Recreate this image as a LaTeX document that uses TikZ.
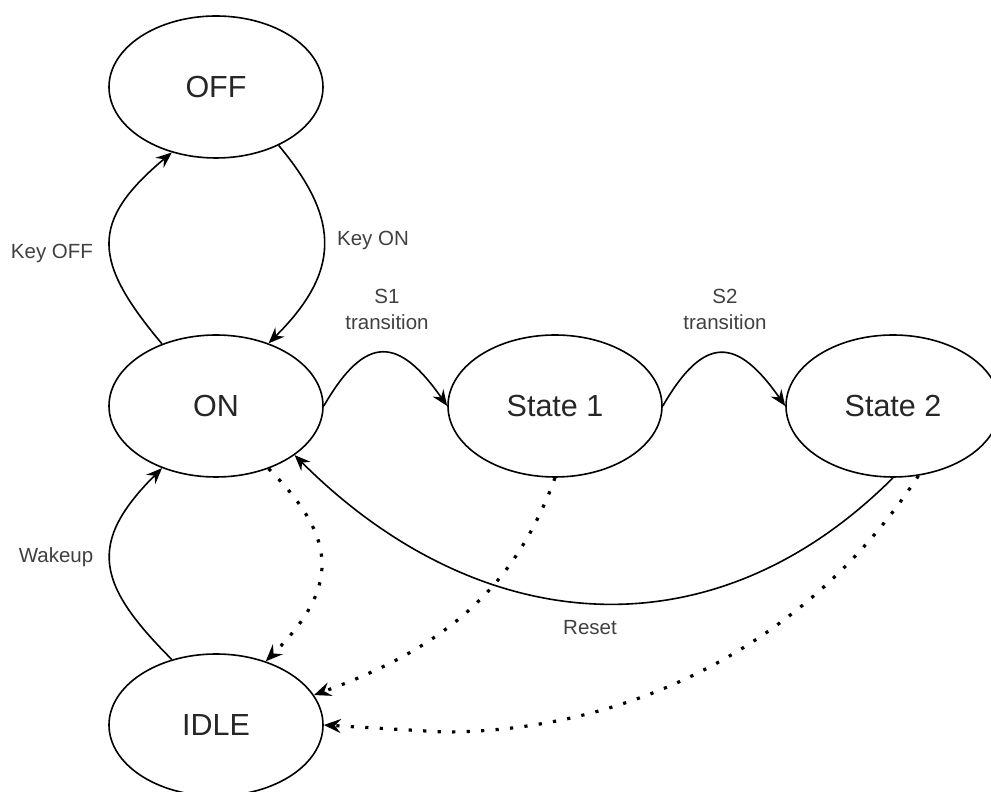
\documentclass[tikz,border=0pt]{standalone}
\usepackage{fontspec}
\setmainfont{Liberation Sans}
\usetikzlibrary{arrows.meta,shapes.geometric}

\begin{document}
\begin{tikzpicture}[x=1pt,y=1pt,
  state/.style={ellipse,draw=black,line width=1.6pt,minimum width=214pt,minimum height=142pt,
    inner sep=0pt,font=\fontsize{30.5}{36}\selectfont,text=black!85},
  edge/.style={draw=black,line width=1.6pt,-{Stealth[length=16pt,width=13pt,inset=5.5pt]}},
  dotedge/.style={edge,line width=3.2pt,dash pattern=on 3.2pt off 11.3pt,
    -{Stealth[length=17pt,width=14pt,inset=6pt]}},
  lbl/.style={font=\fontsize{20.5}{26}\selectfont,text=black!75,align=center,inner sep=0pt}]
\useasboundingbox (0,0) rectangle (991,792);

% states
\node[state] (off)  at (216,705) {OFF};
\node[state] (on)   at (216,386) {ON};
\node[state] (s1)   at (555,386) {State 1};
\node[state] (s2)   at (893,386) {State 2};
\node[state] (idle) at (216,67)  {IDLE};

% solid transitions
\draw[edge] (on.131) to[out=130,in=-140,looseness=1.44] (off.236);
\draw[edge] (off.-43) to[out=-50,in=45,looseness=1.28] (on.50);
\draw[edge] (idle.124) to[out=135,in=225,looseness=1.42] (on.229);
\draw[edge] (on.east) to[out=60,in=125,looseness=1.75] (s1.west);
\draw[edge] (s1.east) to[out=60,in=125,looseness=1.75] (s2.west);
\draw[edge] (s2.south) to[out=-135,in=-45,looseness=1.1] (on.-32);

% dotted transitions to IDLE
\draw[dotedge] (on.-50) to[out=-45,in=45,looseness=1.35] (idle.52);
\draw[dotedge] (s1.south) to[out=-110,in=20] (idle.17);
\coordinate (tail) at (443,60);
\draw[dotedge] (s2.-70) .. controls (811,152) and (635,60) .. (tail) -- (idle.east);

% labels
\node[lbl] (lkoff) at (52,539)  {Key OFF};
\node[lbl] (lkon)  at (373,552) {Key ON};
\node[lbl] (ls1)   at (387,483) {S1\\transition};
\node[lbl] (ls2)   at (725,483) {S2\\transition};
\node[lbl] (lrst)  at (590,164) {Reset};
\node[lbl] (lwake) at (56,235)  {Wakeup};
\end{tikzpicture}
\end{document}
